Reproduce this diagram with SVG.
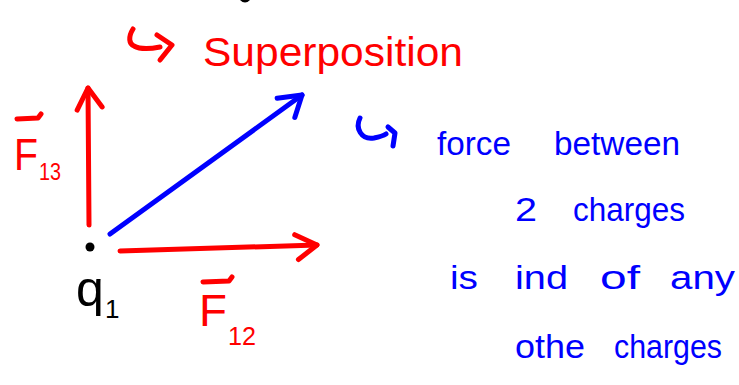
<svg xmlns="http://www.w3.org/2000/svg" width="739" height="385" viewBox="0 0 739 385">
<style>
.r{fill:#ff0000;font-family:"Liberation Sans",Arial,sans-serif}
.b{fill:#0000ff;font-family:"Liberation Sans",Arial,sans-serif;font-size:34px}
.k{fill:#000;font-family:"Liberation Sans",Arial,sans-serif}
.rs{fill:none;stroke:#ff0000;stroke-width:5;stroke-linecap:round;stroke-linejoin:round}
.bs{fill:none;stroke:#0000ff;stroke-width:5;stroke-linecap:round;stroke-linejoin:round}
</style>
<defs>
<marker id="hr" markerUnits="userSpaceOnUse" viewBox="-30 -30 60 60" markerWidth="60" markerHeight="60" refX="0" refY="0" orient="auto">
<path d="M-22,-11 L0,0 L-19,14" fill="none" stroke="#ff0000" stroke-width="5" stroke-linecap="round" stroke-linejoin="round"/>
</marker>
<marker id="hb" markerUnits="userSpaceOnUse" viewBox="-30 -30 60 60" markerWidth="60" markerHeight="60" refX="0" refY="0" orient="auto">
<path d="M-22,-12 L0,0 L-19,14" fill="none" stroke="#0000ff" stroke-width="5" stroke-linecap="round" stroke-linejoin="round"/>
</marker>
</defs>
<rect width="739" height="385" fill="#fff"/>
<path d="M240,0 Q245,5 250,0 Z" fill="#000"/>
<g id="superposition">
<path class="rs" d="M133,29 C128,37 129,44 134,46 C141,50 150,49 160,47"/>
<path class="rs" d="M157,35 L172,45 L160,60"/>
<text class="r" x="203" y="66" font-size="40" textLength="260" lengthAdjust="spacingAndGlyphs">Superposition</text>
</g>
<g id="connectors">
<path class="rs" d="M89,225 L88,88" marker-end="url(#hr)"/>
<path class="rs" d="M120,251 L317,245" marker-end="url(#hr)"/>
<path class="bs" d="M110,234 L302,95" marker-end="url(#hb)"/>
</g>
<g id="q1">
<circle cx="90" cy="247" r="4.5" fill="#000"/>
<text class="k" x="76" y="306" font-size="50">q</text>
<text class="k" x="105" y="318" font-size="26">1</text>
</g>
<g id="F13">
<path class="rs" d="M17,119 L38,118 L41,114" stroke-width="4"/>
<text class="r" x="14" y="170" font-size="44" textLength="24" lengthAdjust="spacingAndGlyphs">F</text>
<text class="r" x="39" y="180" font-size="24" textLength="22" lengthAdjust="spacingAndGlyphs">13</text>
</g>
<g id="F12">
<path class="rs" d="M203,282 L229,281 L232,277" stroke-width="4"/>
<text class="r" x="199" y="326" font-size="44" textLength="28" lengthAdjust="spacingAndGlyphs">F</text>
<text class="r" x="228" y="345" font-size="26" textLength="28" lengthAdjust="spacingAndGlyphs">12</text>
</g>
<g id="note">
<path class="bs" d="M360,118 C355,128 361,140 374,138 C379,137 383,136 386,134"/>
<path class="bs" d="M388,127 L395,133 L393,146"/>
<text class="b" x="437" y="155" textLength="74" lengthAdjust="spacingAndGlyphs">force</text>
<text class="b" x="554" y="155" textLength="126" lengthAdjust="spacingAndGlyphs">between</text>
<text class="b" x="515" y="221" textLength="22" lengthAdjust="spacingAndGlyphs">2</text>
<text class="b" x="573" y="221" textLength="112" lengthAdjust="spacingAndGlyphs">charges</text>
<text class="b" x="450" y="289" textLength="28" lengthAdjust="spacingAndGlyphs">is</text>
<text class="b" x="515" y="289" textLength="53" lengthAdjust="spacingAndGlyphs">ind</text>
<text class="b" x="600" y="289" textLength="40" lengthAdjust="spacingAndGlyphs">of</text>
<text class="b" x="670" y="289" textLength="65" lengthAdjust="spacingAndGlyphs">any</text>
<text class="b" x="515" y="358" textLength="70" lengthAdjust="spacingAndGlyphs">othe</text>
<text class="b" x="614" y="358" textLength="108" lengthAdjust="spacingAndGlyphs">charges</text>
</g>
</svg>
